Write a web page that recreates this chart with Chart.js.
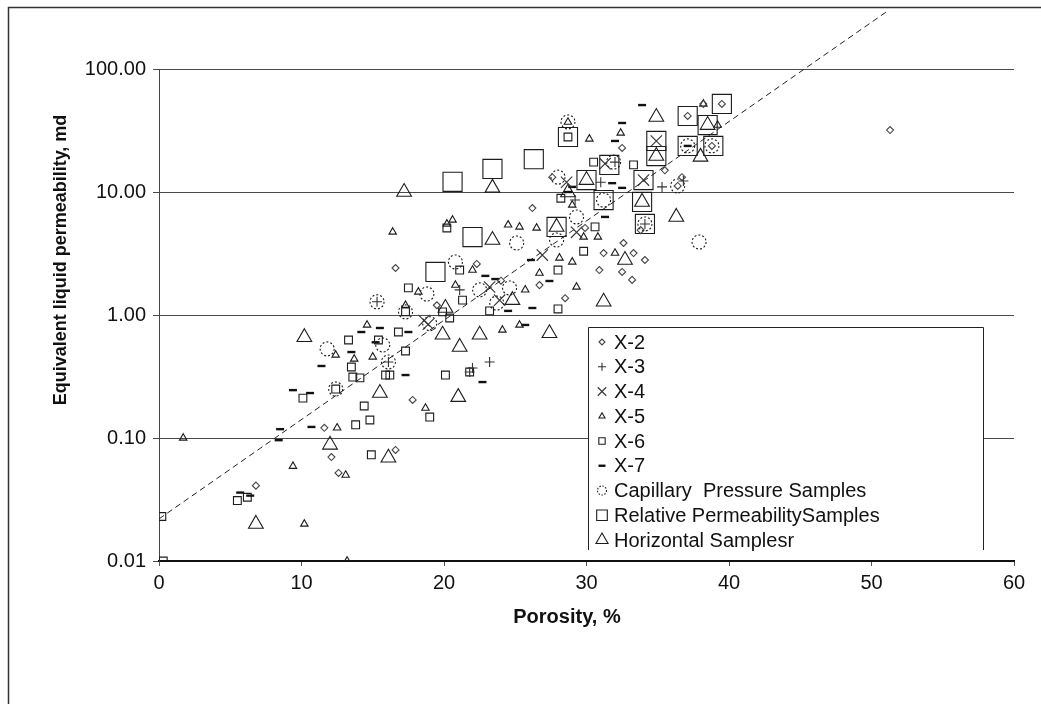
<!DOCTYPE html>
<html>
<head>
<meta charset="utf-8">
<title>Porosity vs permeability</title>
<script src="https://cdn.jsdelivr.net/npm/chart.js@4.4.1/dist/chart.umd.min.js"></script>
<style>
  html, body { margin: 0; padding: 0; background: #fff; }
  #wrap { position: relative; width: 1041px; height: 704px; }
</style>
</head>
<body>
<div id="wrap"><canvas id="permChart"></canvas></div>
<script>
// Porosity (%) / equivalent liquid permeability (md) by well and sample group
const x2Porosity = [16.6, 12.1, 12.6, 6.8, 17.8, 11.6, 16.6, 26.2, 27.6, 32.5, 32.6, 26.7, 28.5, 31.2, 32.5, 33.2, 33.3, 36.7, 37.1, 38.2, 39.5, 38.8, 51.3, 29.9, 30.9, 34.1, 33.8, 36.4, 22.3, 24.0, 19.5, 35.5];
const x2Perm = [2.41, 0.07, 0.052, 0.041, 0.204, 0.121, 0.08, 7.4, 13.2, 22.8, 3.85, 1.75, 1.37, 3.19, 2.24, 1.93, 3.19, 13.2, 41.5, 52, 52, 23.7, 31.9, 5.1, 2.32, 2.8, 4.9, 11.2, 2.6, 1.9, 1.2, 15];

const x3Porosity = [23.2, 22.0, 21.8, 35.3, 34.1, 21.1, 15.3, 16.1, 32.0, 29.2, 31.0, 36.8];
const x3Perm = [0.415, 0.371, 0.344, 11.0, 5.5, 1.6, 1.28, 0.415, 17.5, 8.6, 12.0, 12.3];

const x4Porosity = [26.9, 23.2, 29.3, 34.9, 34.0, 18.6, 31.3, 23.9, 28.6, 18.9];
const x4Perm = [3.07, 1.69, 4.7, 26, 12.5, 0.9, 17, 1.32, 12.0, 0.84];

const x5Porosity = [1.7, 13.2, 10.2, 9.4, 13.1, 12.5, 18.7, 14.6, 12.4, 13.7, 15.0, 16.4, 18.2, 20.6, 22.0, 20.8, 26.5, 24.5, 25.3, 28.1, 29.0, 30.2, 32.4, 29.8, 30.8, 32.0, 29.3, 26.7, 25.7, 24.1, 25.3, 39.2, 38.2, 29.0, 28.7, 20.2, 17.3];
const x5Perm = [0.1, 0.01, 0.02, 0.059, 0.05, 0.121, 0.175, 0.83, 0.473, 0.439, 0.456, 4.73, 1.54, 5.92, 2.32, 1.75, 5.1, 5.4, 5.2, 2.91, 2.7, 27, 30.2, 4.31, 4.31, 3.19, 1.69, 2.19, 1.6, 0.755, 0.83, 35, 52, 7.84, 37, 5.5, 1.2];

const x6Porosity = [0.2, 0.3, 5.5, 6.2, 10.1, 13.3, 13.5, 13.6, 14.1, 15.4, 16.8, 17.3, 15.9, 16.2, 14.4, 19.0, 13.8, 14.8, 14.9, 17.5, 20.2, 21.1, 20.1, 21.3, 23.2, 19.9, 20.4, 28.0, 28.0, 28.2, 29.8, 30.5, 33.3, 30.6, 28.7, 21.8, 12.4, 17.3];
const x6Perm = [0.023, 0.01, 0.031, 0.033, 0.211, 0.626, 0.378, 0.313, 0.308, 0.626, 0.727, 0.51, 0.325, 0.325, 0.182, 0.148, 0.128, 0.14, 0.073, 1.66, 5.1, 2.32, 0.325, 1.32, 1.08, 1.06, 0.946, 1.12, 2.32, 8.9, 3.3, 17.5, 16.6, 5.2, 28, 0.344, 0.25, 1.06];

const x7Porosity = [5.7, 6.4, 8.4, 8.5, 10.7, 9.4, 10.6, 11.4, 14.2, 13.5, 15.5, 17.5, 17.3, 22.9, 23.6, 26.1, 27.4, 24.5, 26.2, 25.7, 22.7, 29.0, 28.7, 31.8, 32.5, 31.3, 32.5, 33.9, 37.1, 32.0, 15.2];
const x7Perm = [0.036, 0.034, 0.096, 0.118, 0.123, 0.245, 0.232, 0.385, 0.727, 0.5, 0.784, 0.727, 0.325, 2.08, 1.96, 2.8, 1.89, 1.08, 1.14, 0.83, 0.285, 11.0, 10.0, 11.8, 10.8, 6.27, 36.4, 50.9, 23.7, 26, 0.6];

const capPorosity = [28.7, 28.0, 29.3, 27.9, 38.8, 37.1, 36.4, 37.9, 34.1, 31.2, 20.8, 18.8, 15.3, 17.3, 11.8, 12.4, 15.7, 16.1, 22.5, 23.7, 24.6, 31.9, 25.1, 19.0];
const capPerm = [37.1, 13.2, 6.27, 4.07, 23.7, 23.7, 11.2, 3.92, 5.5, 8.6, 2.7, 1.48, 1.28, 1.06, 0.53, 0.25, 0.57, 0.415, 1.6, 1.25, 1.66, 17.5, 3.85, 0.85];

const relPorosity = [20.6, 23.4, 26.3, 28.7, 22.0, 19.4, 30.0, 31.2, 27.9, 37.1, 39.5, 38.5, 34.9, 34.9, 37.1, 38.9, 34.0, 33.9, 34.1, 31.6];
const relPerm = [12.1, 15.4, 18.5, 28.0, 4.3, 2.24, 12.5, 8.6, 5.2, 41.5, 52, 35, 26, 19.6, 23.7, 23.7, 12.5, 8.3, 5.5, 16.6];

const horPorosity = [10.2, 12.0, 16.1, 6.8, 15.5, 17.2, 23.4, 23.4, 34.9, 38.0, 36.3, 31.2, 22.5, 27.4, 24.8, 21.1, 21.0, 32.7, 38.5, 34.9, 33.9, 27.9, 28.7, 30.0, 19.9, 20.1];
const horPerm = [0.66, 0.088, 0.069, 0.02, 0.232, 10.0, 10.8, 4.07, 40.7, 19.3, 6.27, 1.28, 0.69, 0.71, 1.32, 0.55, 0.215, 2.8, 35, 19.6, 8.3, 5.2, 9.9, 12.5, 0.69, 1.14];

// dashed trend line end points
const trendPorosity = [0, 51.2];
const trendPerm = [0.022, 300];

const yTicks = [0.01, 0.1, 1, 10, 100];
const xTicks = [0, 10, 20, 30, 40, 50, 60];

const FONT = '"Liberation Sans", Arial, sans-serif';
const INK = '#111';

function pairs(xs, ys) {
    return xs.map((x, i) => ({ x: x, y: ys[i] }));
}

function marker(label, xs, ys, style, radius, extra) {
    return Object.assign({
        label: label,
        data: pairs(xs, ys),
        pointStyle: style,
        pointRadius: radius,
        pointHoverRadius: radius,
        pointBorderWidth: 1.1,
        pointBorderColor: '#1c1c1c',
        pointBackgroundColor: 'rgba(0,0,0,0)',
        inLegend: true
    }, extra || {});
}

const datasets = [
    marker('X-2', x2Porosity, x2Perm, 'rectRot', 3.5, { pointBorderColor: '#444', legendRadius: 3 }),
    marker('X-3', x3Porosity, x3Perm, 'cross', 5, { pointBorderColor: '#333', legendRadius: 4 }),
    marker('X-4', x4Porosity, x4Perm, 'crossRot', 8, { pointBorderColor: '#333', legendRadius: 6 }),
    marker('X-5', x5Porosity, x5Perm, 'triangle', 4.3, { legendRadius: 3.5 }),
    marker('X-6', x6Porosity, x6Perm, 'rect', 5.5, { legendRadius: 4.5 }),
    marker('X-7', x7Porosity, x7Perm, 'line', 4, { pointBorderWidth: 2.4, pointBorderColor: '#111', legendRadius: 3.5 }),
    marker('Capillary  Pressure Samples', capPorosity, capPerm, 'circle', 7, { markerDash: [2, 2], legendRadius: 4.5 }),
    marker('Relative PermeabilitySamples', relPorosity, relPerm, 'rect', 13.5, { legendRadius: 7.5 }),
    marker('Horizontal Samplesr', horPorosity, horPerm, 'triangle', 8.5, { legendRadius: 7 }),
    {
        type: 'line',
        label: 'trend',
        data: pairs(trendPorosity, trendPerm),
        borderColor: '#222',
        borderWidth: 1,
        borderDash: [6, 4],
        pointRadius: 0,
        fill: false,
        clip: false,
        inLegend: false
    }
];

// dashed outlines for markers (point elements do not take a dash of their own)
const markerDash = {
    id: 'markerDash',
    beforeDatasetDraw(chart, args) {
        const ds = chart.data.datasets[args.index];
        if (ds.markerDash) {
            chart.ctx.save();
            chart.ctx.setLineDash(ds.markerDash);
        }
    },
    afterDatasetDraw(chart, args) {
        if (chart.data.datasets[args.index].markerDash) chart.ctx.restore();
    }
};

// white page with the outer frame
const pageFrame = {
    id: 'pageFrame',
    beforeDraw(chart) {
        const ctx = chart.ctx;
        ctx.save();
        ctx.fillStyle = '#fff';
        ctx.fillRect(0, 0, chart.width, chart.height);
        ctx.strokeStyle = '#333';
        ctx.lineWidth = 1.5;
        ctx.beginPath();
        ctx.moveTo(8.5, chart.height);
        ctx.lineTo(8.5, 7.5);
        ctx.lineTo(chart.width, 7.5);
        ctx.stroke();
        ctx.restore();
    }
};

// axis titles
const axisTitles = {
    id: 'axisTitles',
    afterDraw(chart) {
        const ctx = chart.ctx;
        ctx.save();
        ctx.fillStyle = INK;
        ctx.font = 'bold 20px ' + FONT;
        ctx.textAlign = 'center';
        ctx.textBaseline = 'middle';
        ctx.fillText('Porosity, %', 567, 617);
        ctx.translate(61, 260);
        ctx.rotate(-Math.PI / 2);
        ctx.font = 'bold 18px ' + FONT;
        ctx.fillText('Equivalent liquid permeability, md', 0, 0);
        ctx.restore();
    }
};

// boxed legend inside the plot
const legendBox = {
    id: 'legendBox',
    afterDatasetsDraw(chart, args, opts) {
        const ctx = chart.ctx;
        const items = chart.data.datasets.filter(d => d.inLegend);
        const L = opts.left, T = opts.top, R = opts.right, B = opts.bottom;
        ctx.save();
        ctx.fillStyle = '#fff';
        ctx.fillRect(L, T, R - L, B - T);
        ctx.strokeStyle = '#222';
        ctx.lineWidth = 1;
        ctx.beginPath();
        ctx.moveTo(L + 0.5, B);
        ctx.lineTo(L + 0.5, T + 0.5);
        ctx.lineTo(R + 0.5, T + 0.5);
        ctx.lineTo(R + 0.5, B);
        ctx.stroke();

        ctx.font = '20px ' + FONT;
        ctx.textBaseline = 'middle';
        ctx.textAlign = 'left';
        items.forEach((ds, i) => {
            const y = opts.firstRow + i * opts.rowStep;
            ctx.save();
            ctx.strokeStyle = ds.pointBorderColor;
            ctx.fillStyle = 'rgba(0,0,0,0)';
            ctx.lineWidth = ds.pointBorderWidth;
            if (ds.markerDash) ctx.setLineDash([1.5, 1.5]);
            Chart.helpers.drawPoint(ctx, {
                pointStyle: ds.pointStyle,
                radius: ds.legendRadius,
                rotation: 0,
                borderWidth: ds.pointBorderWidth
            }, opts.symbolX, y);
            ctx.restore();
            ctx.fillStyle = INK;
            ctx.fillText(ds.label, opts.textX, y + 1);
        });
        ctx.restore();
    }
};

const ctx = document.getElementById('permChart').getContext('2d');
const permChart = new Chart(ctx, {
    type: 'scatter',
    data: { datasets: datasets },
    plugins: [pageFrame, markerDash, legendBox, axisTitles],
    options: {
        responsive: true,
        maintainAspectRatio: false,
        devicePixelRatio: 1,
        animation: false,
        events: [],
        layout: { padding: { top: 69, right: 27, bottom: 0, left: 0 } },
        plugins: {
            legend: { display: false },
            tooltip: { enabled: false },
            legendBox: {
                left: 588, top: 327, right: 983, bottom: 550,
                symbolX: 602, textX: 614, firstRow: 342, rowStep: 24.75
            }
        },
        scales: {
            x: {
                type: 'linear',
                min: 0,
                max: 60,
                afterFit(scale) { scale.height = 143; },
                afterBuildTicks(axis) { axis.ticks = xTicks.map(v => ({ value: v })); },
                ticks: {
                    color: INK,
                    font: { family: FONT, size: 20 },
                    padding: 5,
                    maxRotation: 0,
                    autoSkip: false
                },
                grid: {
                    drawOnChartArea: false,
                    drawTicks: true,
                    tickLength: 5,
                    color: '#555'
                },
                border: { color: '#111', width: 2 }
            },
            y: {
                type: 'logarithmic',
                min: 0.01,
                max: 100,
                afterFit(scale) { scale.width = 159; },
                afterBuildTicks(axis) { axis.ticks = yTicks.map(v => ({ value: v })); },
                ticks: {
                    color: INK,
                    font: { family: FONT, size: 20 },
                    padding: 7,
                    autoSkip: false,
                    callback: (v) => Number(v).toFixed(2)
                },
                grid: {
                    color: '#4a4a4a',
                    lineWidth: 1,
                    drawTicks: true,
                    tickLength: 6
                },
                border: { color: '#444', width: 1 }
            }
        }
    }
});
</script>
</body>
</html>
